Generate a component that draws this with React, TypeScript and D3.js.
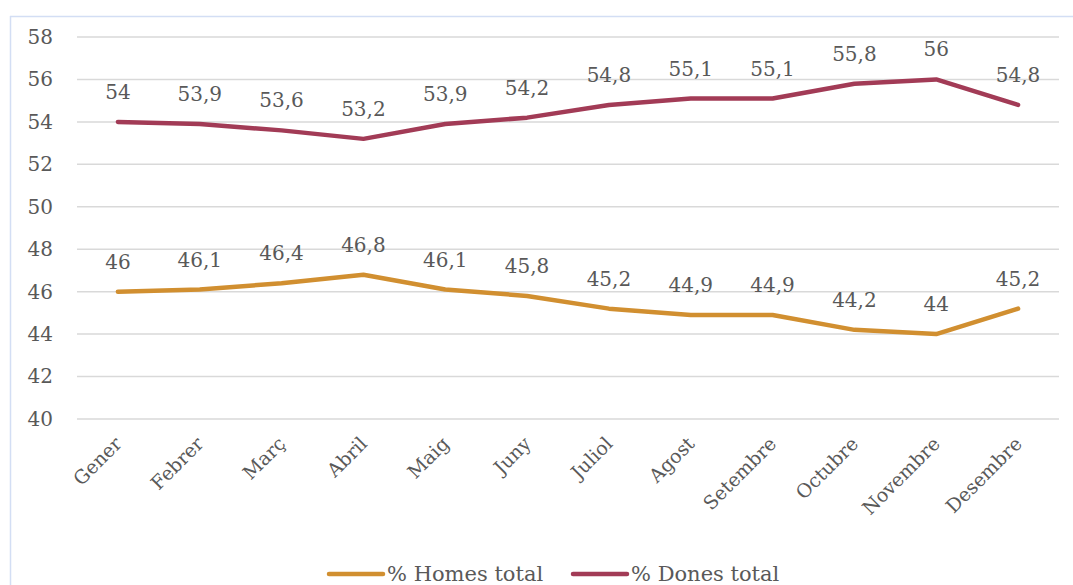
import { useEffect, useRef } from 'react'
import { axisLeft, line, scaleLinear, scaleBand, select } from 'd3'

const months = [
  'Gener', 'Febrer', 'Març', 'Abril', 'Maig', 'Juny',
  'Juliol', 'Agost', 'Setembre', 'Octubre', 'Novembre', 'Desembre',
]
const homesTotal = [46, 46.1, 46.4, 46.8, 46.1, 45.8, 45.2, 44.9, 44.9, 44.2, 44, 45.2]
const donesTotal = [54, 53.9, 53.6, 53.2, 53.9, 54.2, 54.8, 55.1, 55.1, 55.8, 56, 54.8]
const yTicks = [40, 42, 44, 46, 48, 50, 52, 54, 56, 58]

const series = [
  { name: '% Homes total', values: homesTotal, color: '#d18f30' },
  { name: '% Dones total', values: donesTotal, color: '#a23b56' },
]

const width = 1073
const height = 585
const margin = { top: 37, right: 14, bottom: 166, left: 77 }
const font = "'DejaVu Serif', 'Liberation Serif', serif"
const textColor = '#595959'

export default function App() {
  const yAxisRef = useRef<SVGGElement>(null)

  const innerWidth = width - margin.left - margin.right
  const innerHeight = height - margin.top - margin.bottom

  const xBand = scaleBand<string>().domain(months).range([0, innerWidth])
  const x = (m: string) => (xBand(m) ?? 0) + xBand.bandwidth() / 2

  const y = scaleLinear().domain([40, 58]).range([innerHeight, 0])

  const lineGen = line<number>()
    .x((_, i) => x(months[i]))
    .y((d) => y(d))

  useEffect(() => {
    if (!yAxisRef.current) return
    const g = select(yAxisRef.current)
    g.call(axisLeft(y).tickValues(yTicks).tickSize(0).tickPadding(24))
    g.select('.domain').remove()
    g.selectAll('text')
      .attr('fill', textColor)
      .style('font-family', font)
      .style('font-size', '20px')
  }, [y])

  const fmt = (v: number) => String(v).replace('.', ',')

  return (
    <svg
      width={width}
      height={height}
      style={{ position: 'absolute', left: 0, top: 0, background: '#fff' }}
    >
      <line x1={10.5} x2={10.5} y1={16} y2={height} stroke="#d3def4" strokeWidth={1.5} />
      <line x1={10} x2={width} y1={16.5} y2={16.5} stroke="#d3def4" strokeWidth={1.5} />
      <g transform={`translate(${margin.left}, ${margin.top})`}>
        <g>
          {yTicks.map((t) => (
            <line
              key={t}
              x1={0}
              x2={innerWidth}
              y1={y(t)}
              y2={y(t)}
              stroke="#d9d9d9"
              strokeWidth={1.5}
            />
          ))}
        </g>
        <g ref={yAxisRef} />

        {months.map((m) => (
          <text
            key={m}
            transform={`translate(${x(m) + 5}, ${innerHeight + 26}) rotate(-45)`}
            textAnchor="end"
            fill={textColor}
            fontFamily={font}
            fontSize={19}
          >
            {m}
          </text>
        ))}

        {series.map((s) => (
          <g key={s.name}>
            <path
              d={lineGen(s.values) ?? ''}
              fill="none"
              stroke={s.color}
              strokeWidth={4.5}
              strokeLinecap="round"
              strokeLinejoin="round"
            />
            {s.values.map((v, i) => (
              <text
                key={i}
                x={x(months[i])}
                y={y(v) - 23}
                textAnchor="middle"
                fill={textColor}
                fontFamily={font}
                fontSize={20}
              >
                {fmt(v)}
              </text>
            ))}
          </g>
        ))}
      </g>

      <g transform="translate(329, 574)">
        {series.map((s, i) => (
          <g key={s.name} transform={`translate(${i * 244}, 0)`}>
            <line x1={0} x2={54} y1={0} y2={0} stroke={s.color} strokeWidth={4.5} strokeLinecap="round" />
            <text x={58} y={7} fill={textColor} fontFamily={font} fontSize={21}>
              {s.name}
            </text>
          </g>
        ))}
      </g>
    </svg>
  )
}
